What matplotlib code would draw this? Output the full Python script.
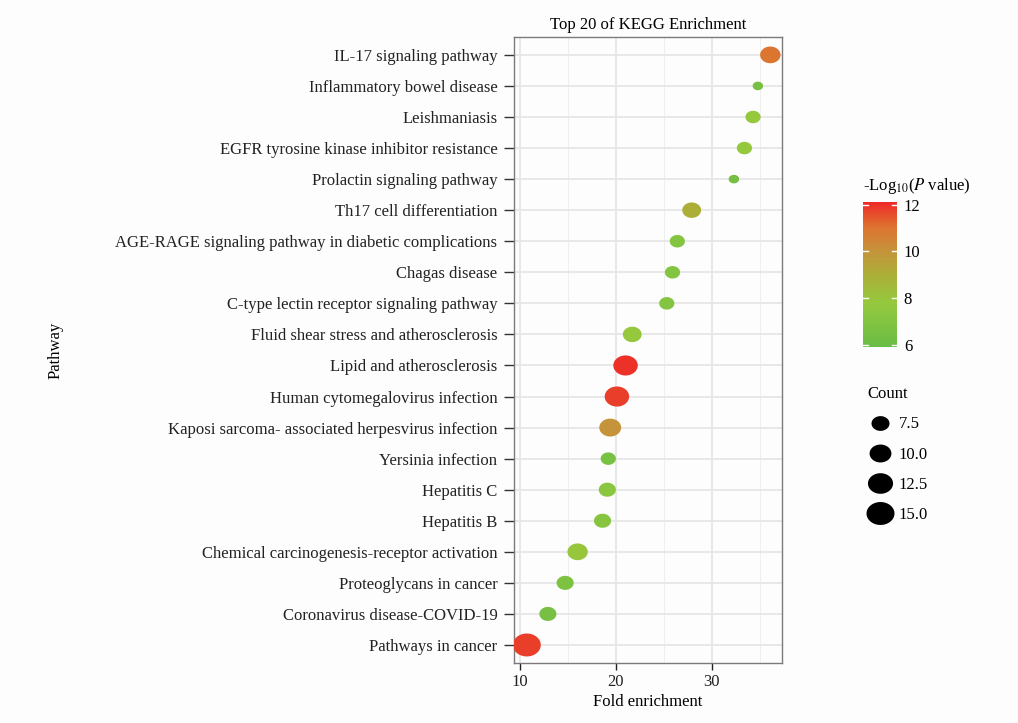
import numpy as np
import matplotlib
matplotlib.use("Agg")
import matplotlib.pyplot as plt
from matplotlib.path import Path
from matplotlib.colors import LinearSegmentedColormap, Normalize
from matplotlib.lines import Line2D

plt.rcParams['font.family'] = ['Liberation Serif', 'DejaVu Serif']
FS = 12

pathways = ["Pathways in cancer", "Coronavirus disease-COVID-19", "Proteoglycans in cancer",
            "Chemical carcinogenesis-receptor activation", "Hepatitis B", "Hepatitis C",
            "Yersinia infection", "Kaposi sarcoma- associated herpesvirus infection",
            "Human cytomegalovirus infection", "Lipid and atherosclerosis",
            "Fluid shear stress and atherosclerosis", "C-type lectin receptor signaling pathway",
            "Chagas disease", "AGE-RAGE signaling pathway in diabetic complications",
            "Th17 cell differentiation", "Prolactin signaling pathway",
            "EGFR tyrosine kinase inhibitor resistance", "Leishmaniasis",
            "Inflammatory bowel disease", "IL-17 signaling pathway"]
fold = [10.7, 12.9, 14.7, 16.0, 18.6, 19.1, 19.2, 19.4, 20.1, 21.0,
        21.7, 25.3, 25.9, 26.4, 27.9, 32.3, 33.4, 34.3, 34.8, 36.1]
count = [15, 7, 7, 9, 7, 7, 6, 10, 12, 12,
         8, 6, 6, 6, 8, 4, 6, 6, 4, 9]
logp = [11.8, 6.5, 6.8, 7.9, 7.2, 7.3, 6.6, 10.0, 11.8, 12.0,
        7.8, 7.0, 7.0, 7.0, 9.0, 6.4, 7.7, 7.8, 6.5, 11.0]
legend_counts = [7.5, 10.0, 12.5, 15.0]

cmap = LinearSegmentedColormap.from_list("gr", [
    (0.0, "#69bc45"), (0.3, "#95c93e"), (0.5, "#abaf38"),
    (0.67, "#c6923a"), (0.83, "#dd7430"), (1.0, "#ee2a28")])
norm = Normalize(5.9, 12.1)

# elliptical marker (the reference is stretched horizontally)
t = np.linspace(0, 2 * np.pi, 60)
ell = Path(np.column_stack([0.5 * np.cos(t), 0.41 * np.sin(t)]), closed=True)


def width_pt(c):
    px = np.sqrt(324 + 61.3 * (np.asarray(c, dtype=float) - 7.5))
    return px * 0.72


fig = plt.figure(figsize=(10.18, 7.23), dpi=100, facecolor="#fdfdfd")
ax = fig.add_axes([0.505, 0.083, 0.263, 0.866])
ax.set_facecolor("#fdfdfd")

y = np.arange(1, len(pathways) + 1)
ax.scatter(fold, y, s=width_pt(count) ** 2, c=logp, cmap=cmap, norm=norm,
           marker=ell, linewidths=0, zorder=3)

ax.set_xlim(9.375, 37.3)
ax.set_ylim(0.42, 20.58)
ax.set_xticks([10, 20, 30])
ax.set_xticks([15, 25, 35], minor=True)
ax.set_yticks(y)
ax.set_yticklabels(pathways, fontsize=FS, color="#222222")
ax.tick_params(axis="x", labelsize=FS, colors="#222222", length=5, width=1, pad=3)
ax.tick_params(axis="x", which="minor", length=0)
ax.tick_params(axis="y", length=7, width=1, color="#333333", pad=5)
ax.grid(True, which="major", color="#e6e6e6", linewidth=1.3, zorder=0)
ax.grid(True, which="minor", axis="x", color="#efefef", linewidth=0.7, zorder=0)
ax.set_axisbelow(True)
for sp in ax.spines.values():
    sp.set_color("#7a7a7a")
    sp.set_linewidth(1)

ax.set_title("Top 20 of KEGG Enrichment", fontsize=FS, pad=6)
ax.set_xlabel("Fold enrichment", fontsize=FS, labelpad=3)
fig.text(0.055, 0.515, "Pathway", rotation=90, ha="center", va="center", fontsize=FS)

# colour bar
cax = fig.add_axes([0.848, 0.52, 0.033, 0.2])
sm = plt.cm.ScalarMappable(norm=norm, cmap=cmap)
cb = fig.colorbar(sm, cax=cax, ticks=[6, 8, 10, 12])
cb.outline.set_visible(False)
cax.tick_params(length=0, labelsize=FS, pad=5)
for v in [6, 8, 10, 12]:
    cax.plot([0, 0.15], [v, v], color="white", lw=1, transform=cax.get_yaxis_transform())
    cax.plot([0.85, 1], [v, v], color="white", lw=1, transform=cax.get_yaxis_transform())
fig.text(0.848, 0.743, r"-Log$_{10}$($\it{P}$ value)", fontsize=FS,
         ha="left", va="center", math_fontfamily="stix")

# size legend
handles = [Line2D([], [], linestyle="none", marker=ell, markersize=width_pt(c),
                  markerfacecolor="black", markeredgewidth=0) for c in legend_counts]
leg = fig.legend(handles, [f"{c:.1f}" for c in legend_counts], title="Count",
                 loc="upper left", bbox_to_anchor=(0.845, 0.475), frameon=False,
                 fontsize=FS, title_fontsize=FS, labelspacing=0.85,
                 handletextpad=0.3, handlelength=1.6, borderaxespad=0)
leg._legend_box.align = "left"

fig.savefig("out.png", dpi=100, facecolor=fig.get_facecolor())
